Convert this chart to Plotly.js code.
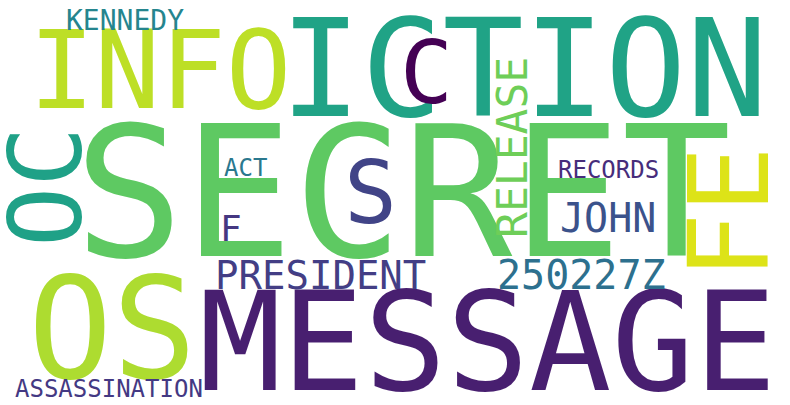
<!DOCTYPE html>
<html>
<head>
<meta charset="utf-8">
<script src="https://cdn.plot.ly/plotly-3.0.1.min.js"></script>
<style>html,body{margin:0;padding:0;background:#fff}#chart{width:790px;height:405px}</style>
</head>
<body>
<div id="chart"></div>
<script>
"use strict";

// Word cloud layout: word, centre (pixel coords of a 790x405 canvas), font size, colour, rotation.
const words = ["SECRET", "MESSAGE", "ICTION", "INFO", "OS", "C", "S", "FE", "OC", "RELEASE",
  "KENNEDY", "ACT", "RECORDS", "F", "JOHN", "PRESIDENT", "250227Z", "ASSASSINATION"];
const wordX = [402, 487, 524, 160, 112, 426, 370, 730, 46, 512, 125, 245, 608, 231, 608, 320, 581, 109];
const wordY = [193, 342, 69, 70, 329, 72, 192, 213, 187, 148, 20, 168, 170, 228, 218, 275, 275, 389];
const wordSize = [182, 137, 135, 109, 140, 88, 88, 110, 100, 43, 28, 24, 24, 36, 40, 39, 40, 24];
const wordColor = ["#5ec962", "#481f70", "#20a386", "#bddf26", "#addc30", "#440154", "#414487",
  "#dde318", "#1fa187", "#6ece58", "#25858e", "#2a788e", "#472d7b", "#453781", "#3b528b",
  "#433e85", "#2d708e", "#443983"];
const wordVertical = [false, false, false, false, false, false, false, true, true, true,
  false, false, false, false, false, false, false, false];

const annotations = words.map((w, i) => ({
  text: w,
  x: wordX[i],
  y: wordY[i],
  xref: "x",
  yref: "y",
  xanchor: "center",
  yanchor: "middle",
  showarrow: false,
  textangle: wordVertical[i] ? -90 : 0,
  font: { family: "DejaVu Sans Mono, monospace", size: wordSize[i], color: wordColor[i] },
}));

const hidden = { visible: false, fixedrange: true };

Plotly.newPlot("chart", [], {
  width: 790,
  height: 405,
  margin: { t: 0, r: 0, b: 0, l: 0 },
  paper_bgcolor: "#ffffff",
  plot_bgcolor: "#ffffff",
  xaxis: { ...hidden, range: [0, 790] },
  yaxis: { ...hidden, range: [405, 0] },
  annotations,
  showlegend: false,
}, { displayModeBar: false, staticPlot: true });
</script>
</body>
</html>
